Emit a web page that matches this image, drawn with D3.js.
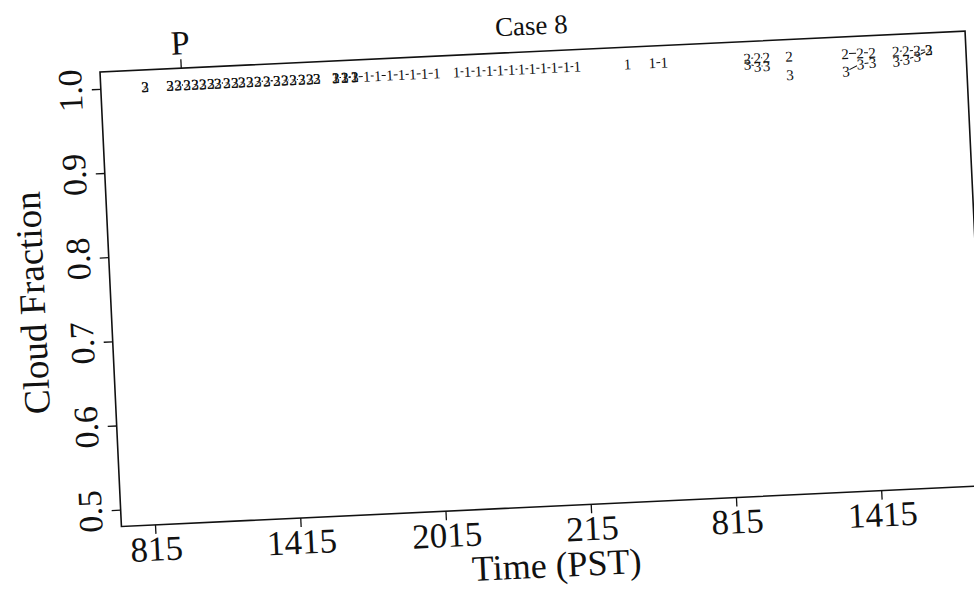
<!DOCTYPE html>
<html>
<head>
<meta charset="utf-8">
<title>Case 8</title>
<script src="https://d3js.org/d3.v7.min.js"></script>
<style>
  body { margin: 0; background: #fff; }
  svg text { font-family: "Liberation Serif", "Times New Roman", serif; fill: #111; }
  .axis path.domain { display: none; }
  .axis line { stroke: #111; stroke-width: 1.3; }
</style>
</head>
<body>
<svg id="chart" width="974" height="591"></svg>
<script>
// hours since 0:00 on day 1, gap entries (all series null) break the lines like R's NA
var N = null;
var times = [
  8.69, 9.2,
  9.72, 10.05, 10.42, 10.75, 11.08, 11.41, 11.70, 12.07, 12.40, 12.69,
  13.02, 13.35, 13.72, 14.13, 14.46, 14.80, 15.17, 15.50, 15.79, 16.2,
  16.57, 16.94, 17.35, 17.85, 18.30, 18.80, 19.29, 19.75, 20.24, 20.74, 21.15,
  21.56, 22.01, 22.47, 22.92, 23.37, 23.83, 24.24, 24.69, 25.15, 25.60, 26.10, 26.55, 27.6,
  28.62, 29.1,
  29.65, 30.14, 32.0,
  33.57, 33.98, 34.35, 34.8,
  35.30, 36.5,
  37.61, 38.23, 38.72, 39.2,
  39.71, 40.12, 40.58, 41.07
];
var cf1 = [
  N, N,
  N, N, N, N, N, N, N, N, N, N,
  N, N, N, N, N, N, N, N, N, N,
  1, 1, 1, 1, 1, 1, 1, 1, 1, 1, N,
  1, 1, 1, 1, 1, 1, 1, 1, 1, 1, 1, 1, N,
  1, N,
  1, 1, N,
  N, N, N, N,
  N, N,
  N, N, N, N,
  N, N, N, N
];
var cf2 = [
  1, N,
  1, 1, 1, 1, 1, 1, 1, 1, 1, 1,
  1, 1, 1, 1, 1, 1, 1, 1, 1, N,
  1, 1, 1, N, N, N, N, N, N, N, N,
  N, N, N, N, N, N, N, N, N, N, N, N, N,
  N, N,
  N, N, N,
  1, 1, 1, N,
  1, N,
  1, 1, 1, N,
  1, 1, 1, 1
];
var cf3 = [
  1, N,
  1, 1, 1, 1, 1, 1, 1, 1, 1, 1,
  1, 1, 1, 1, 1, 1, 1, 1, 1, N,
  1, 1, 1, N, N, N, N, N, N, N, N,
  N, N, N, N, N, N, N, N, N, N, N, N, N,
  N, N,
  N, N, N,
  0.993, 0.99, 0.99, N,
  0.978, N,
  0.979, 0.987, 0.988, N,
  0.988, 0.99, 0.993, 1.0
];
// drawing order: 2 ends up on top where series coincide
var seriesList = [
  { label: "1", values: cf1 },
  { label: "3", values: cf3 },
  { label: "2", values: cf2 }
];
var xTicks = [8.25, 14.25, 20.25, 26.25, 32.25, 38.25];
var xTickLabels = ["815", "1415", "2015", "215", "815", "1415"];
var yTicks = [0.5, 0.6, 0.7, 0.8, 0.9, 1.0];
var markTime = [10.2];
var markLabel = ["P"];

var width = 866, height = 455;
var svg = d3.select("#chart");
// the scanned page is slightly tilted
var g = svg.append("g").attr("transform", "translate(100,72) rotate(-2.7)");

var x = d3.scaleLinear().domain([6.863, 42.6]).range([0, width]);
var y = d3.scaleLinear().domain([0.48, 1.02]).range([height, 0]);

// box
g.append("rect")
  .attr("width", width).attr("height", height)
  .attr("fill", "none").attr("stroke", "#111").attr("stroke-width", 1.6);

// left axis, labels turned to read upwards
var yAxis = g.append("g").attr("class", "axis")
  .call(d3.axisLeft(y).tickValues(yTicks).tickSize(9).tickFormat(d3.format(".1f")));
yAxis.selectAll("text")
  .attr("transform", "rotate(-90)")
  .attr("x", 0).attr("y", -19).attr("dy", 0)
  .attr("text-anchor", "middle")
  .style("font-size", "34px");

// bottom axis
var xAxis = g.append("g").attr("class", "axis")
  .attr("transform", "translate(0," + height + ")")
  .call(d3.axisBottom(x).tickValues(xTicks).tickSize(9).tickPadding(2)
    .tickFormat(function(d, i) { return xTickLabels[i]; }));
xAxis.selectAll("text").style("font-size", "35px");

// top marker
var topAxis = g.append("g").attr("class", "axis")
  .call(d3.axisTop(x).tickValues(markTime).tickSize(9).tickPadding(5)
    .tickFormat(function(d, i) { return markLabel[i]; }));
topAxis.selectAll("text").style("font-size", "34px");

// titles
g.append("text").attr("x", width / 2).attr("y", -17)
  .attr("text-anchor", "middle").style("font-size", "27px").text("Case 8");
g.append("text").attr("x", width / 2).attr("y", height + 71)
  .attr("text-anchor", "middle").style("font-size", "36px").text("Time (PST)");
g.append("text")
  .attr("transform", "translate(-66," + (height / 2) + ") rotate(-90)")
  .attr("text-anchor", "middle").style("font-size", "37px").text("Cloud Fraction");

// type="b": segments between neighbours with a gap round each character
var gap = 4;
seriesList.forEach(function(s) {
  var pts = times.map(function(t, i) {
    return s.values[i] == null ? null : [x(t), y(s.values[i])];
  });
  for (var i = 0; i < pts.length - 1; i++) {
    var a = pts[i], b = pts[i + 1];
    if (!a || !b) continue;
    var dx = b[0] - a[0], dy = b[1] - a[1], len = Math.sqrt(dx * dx + dy * dy);
    if (len <= 2 * gap) continue;
    var ux = dx / len, uy = dy / len;
    g.append("line")
      .attr("x1", a[0] + ux * gap).attr("y1", a[1] + uy * gap)
      .attr("x2", b[0] - ux * gap).attr("y2", b[1] - uy * gap)
      .attr("stroke", "#111").attr("stroke-width", 1);
  }
  g.selectAll(null)
    .data(pts.filter(function(p) { return p; }))
    .enter().append("text")
    .attr("x", function(p) { return p[0]; })
    .attr("y", function(p) { return p[1]; })
    .attr("dy", "0.35em")
    .attr("text-anchor", "middle")
    .style("font-size", "15px")
    .text(s.label);
});
</script>
</body>
</html>
